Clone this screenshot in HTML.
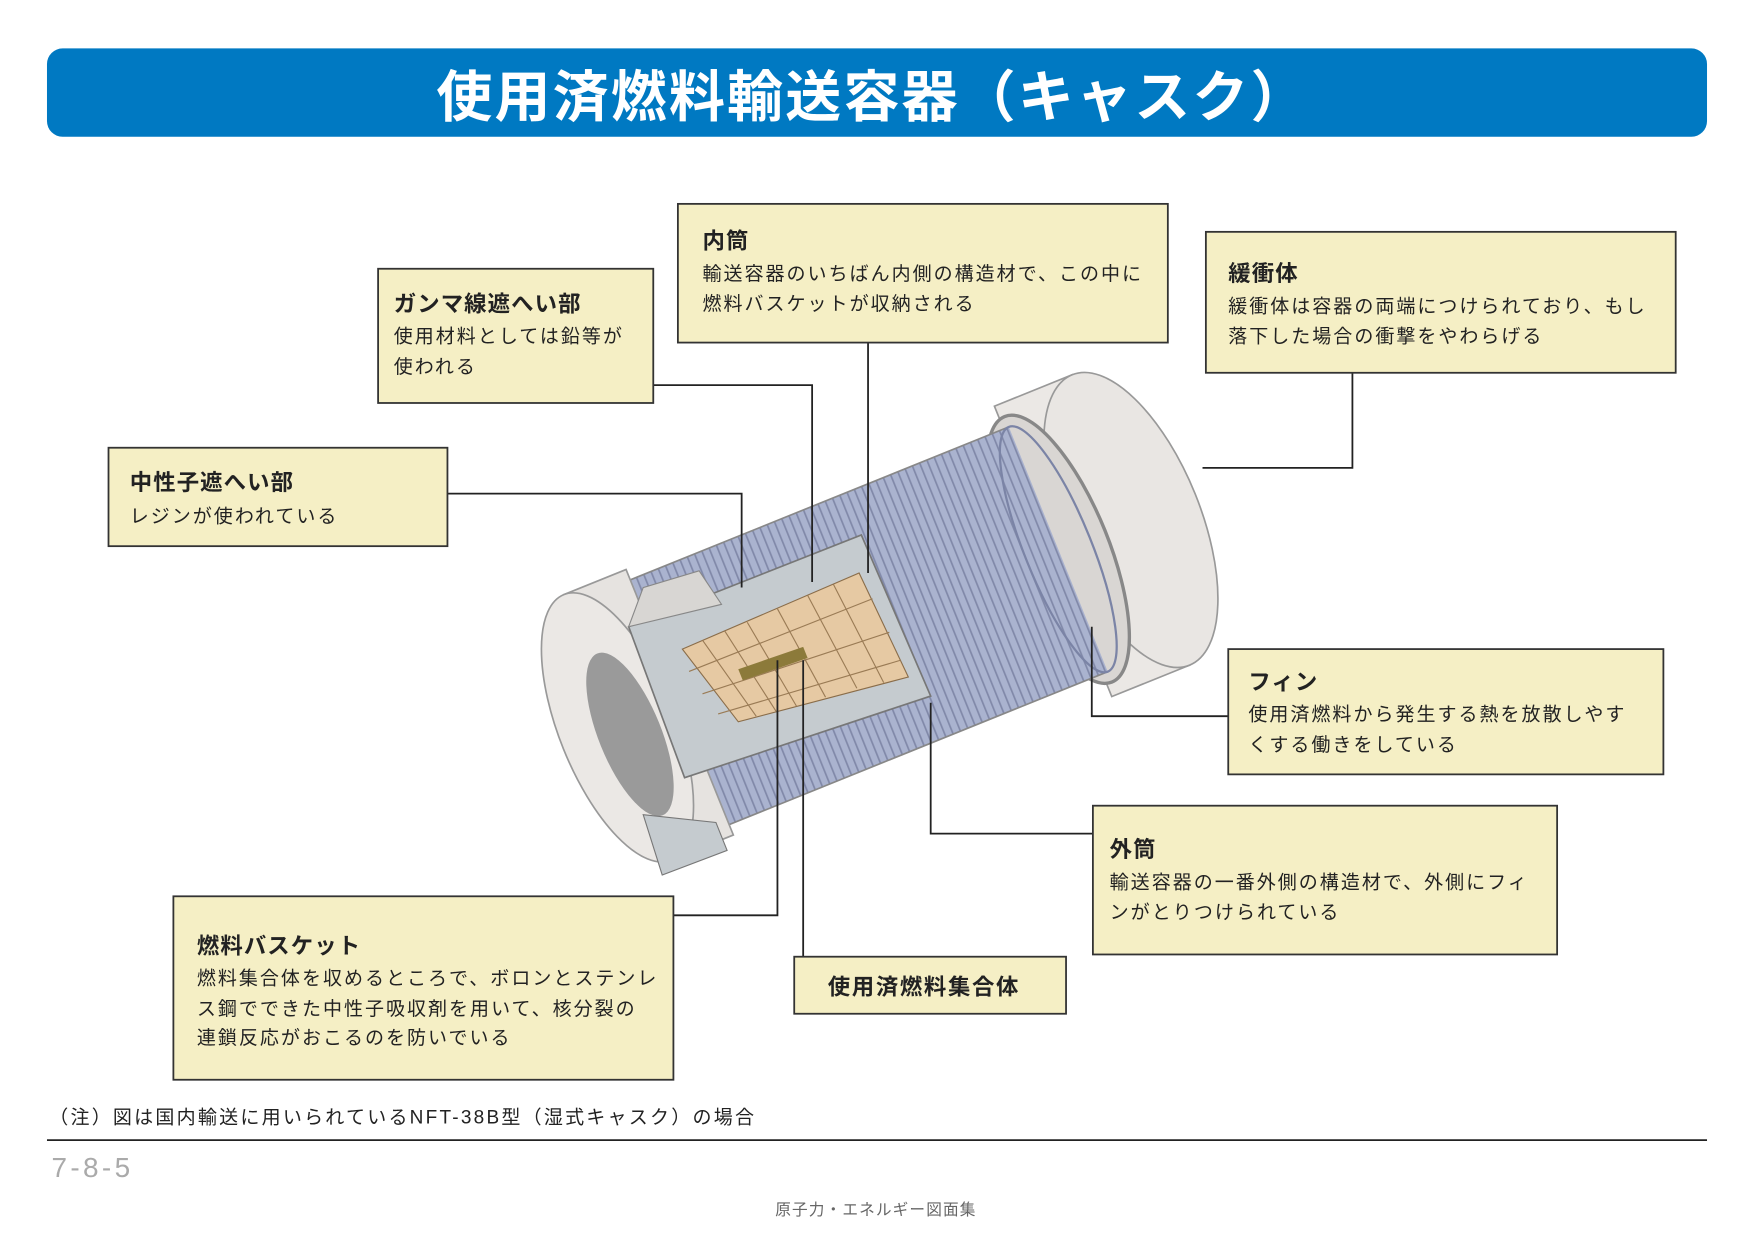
<!DOCTYPE html>
<html><head><meta charset="utf-8"><style>
html,body{margin:0;padding:0;background:#fff;}
svg{display:block;}
text{font-family:"Liberation Sans","Noto Sans CJK JP",sans-serif;}
</style></head><body>
<svg width="1754" height="1240" viewBox="0 0 1568 1108" xmlns="http://www.w3.org/2000/svg">
<defs>
<pattern id="fins" width="7" height="10" patternUnits="userSpaceOnUse">
<rect width="7" height="10" fill="#aab3cf"/>
<line x1="3" y1="0" x2="3" y2="10" stroke="#8088a8" stroke-width="1.5"/>
</pattern>
</defs>
<rect x="42" y="43" width="1484" height="79" rx="14" fill="#0079c2"/>
<text x="780" y="104" text-anchor="middle" font-size="50" font-weight="bold" fill="#fff" letter-spacing="2">使用済燃料輸送容器（キャスク）</text>

<!-- cask -->
<g transform="translate(552,650) rotate(-22)">
 <rect x="420" y="-140" width="75" height="280" fill="#ebe8e5" stroke="#999" stroke-width="1.5"/>
 <ellipse cx="495" cy="0" rx="62" ry="140" fill="#e9e6e3" stroke="#999" stroke-width="1.5"/>
 <ellipse cx="425" cy="0" rx="45" ry="128" fill="#d9d6d3" stroke="#888" stroke-width="3"/>
 <rect x="40" y="-118" width="385" height="236" fill="url(#fins)"/>
 <line x1="40" y1="-118" x2="425" y2="-118" stroke="#888" stroke-width="1.5"/>
 <line x1="40" y1="118" x2="425" y2="118" stroke="#888" stroke-width="1.5"/>
 <ellipse cx="425" cy="0" rx="30" ry="118" fill="none" stroke="#7b84a6" stroke-width="2"/>
 <rect x="0" y="-128" width="60" height="256" fill="#e6e3e0" stroke="#999" stroke-width="1.5"/>
 <ellipse cx="0" cy="0" rx="52" ry="128" fill="#ebe8e5" stroke="#999" stroke-width="1.5"/>
 <ellipse cx="8" cy="10" rx="28" ry="78" fill="#9a9a9a"/>
</g>
<polygon points="562,560 770,478 832,622 612,695" fill="#c5cbcf" stroke="#777" stroke-width="1.5"/>
<polygon points="610,580 768,512 812,605 660,645" fill="#e6c9a3" stroke="#8a6d4a" stroke-width="1"/>
<g stroke="#9a7b55" stroke-width="1">
<line x1="628" y1="572" x2="676" y2="640"/><line x1="648" y1="564" x2="694" y2="636"/>
<line x1="668" y1="556" x2="712" y2="631"/><line x1="695" y1="544" x2="738" y2="623"/>
<line x1="722" y1="532" x2="766" y2="615"/><line x1="745" y1="522" x2="790" y2="610"/>
<line x1="616" y1="600" x2="780" y2="535"/><line x1="628" y1="620" x2="795" y2="565"/>
<line x1="642" y1="638" x2="805" y2="590"/>
</g>
<polygon points="660,598 718,578 722,588 664,608" fill="#8c7a3a"/>
<polygon points="562,560 575,525 625,510 645,540" fill="#d8d6d3" stroke="#888"/>
<polygon points="575,728 640,735 650,760 592,782" fill="#c5cbcf" stroke="#777"/>

<!-- connectors -->
<g fill="none" stroke="#222" stroke-width="1.6">
<polyline points="584,344 726,344 726,520"/>
<polyline points="776,306 776,512"/>
<polyline points="1209,333 1209,418 1075,418"/>
<polyline points="400,441 663,441 663,525"/>
<polyline points="1098,640 976,640 976,560"/>
<polyline points="977,745 832,745 832,628"/>
<polyline points="602,818 695,818 695,590"/>
<polyline points="718,855 718,590"/>
</g>

<!-- boxes -->
<g fill="#f5efc5" stroke="#333" stroke-width="1.6">
<rect x="606" y="182" width="438" height="124"/>
<rect x="1078" y="207" width="420" height="126"/>
<rect x="338" y="240" width="246" height="120"/>
<rect x="97" y="400" width="303" height="88"/>
<rect x="1098" y="580" width="389" height="112"/>
<rect x="977" y="720" width="415" height="133"/>
<rect x="155" y="801" width="447" height="164"/>
<rect x="710" y="855" width="243" height="51"/>
</g>
<g fill="#222" font-size="17" letter-spacing="1.8">
<text x="628" y="222" font-size="20" font-weight="bold" letter-spacing="1">内筒</text>
<text x="628" y="250">輸送容器のいちばん内側の構造材で、この中に</text>
<text x="628" y="277">燃料バスケットが収納される</text>
<text x="1098" y="251" font-size="20" font-weight="bold" letter-spacing="1">緩衝体</text>
<text x="1098" y="279">緩衝体は容器の両端につけられており、もし</text>
<text x="1098" y="306">落下した場合の衝撃をやわらげる</text>
<text x="352" y="278" font-size="20" font-weight="bold" letter-spacing="1">ガンマ線遮へい部</text>
<text x="352" y="306">使用材料としては鉛等が</text>
<text x="352" y="333">使われる</text>
<text x="116" y="438" font-size="20" font-weight="bold" letter-spacing="1">中性子遮へい部</text>
<text x="116" y="467">レジンが使われている</text>
<text x="1116" y="616" font-size="20" font-weight="bold" letter-spacing="1">フィン</text>
<text x="1116" y="644">使用済燃料から発生する熱を放散しやす</text>
<text x="1116" y="671">くする働きをしている</text>
<text x="992" y="766" font-size="20" font-weight="bold" letter-spacing="1">外筒</text>
<text x="992" y="794">輸送容器の一番外側の構造材で、外側にフィ</text>
<text x="992" y="821">ンがとりつけられている</text>
<text x="176" y="852" font-size="20" font-weight="bold" letter-spacing="1">燃料バスケット</text>
<text x="176" y="880">燃料集合体を収めるところで、ボロンとステンレ</text>
<text x="176" y="907">ス鋼でできた中性子吸収剤を用いて、核分裂の</text>
<text x="176" y="933">連鎖反応がおこるのを防いでいる</text>
<text x="740" y="889" font-size="20" font-weight="bold" letter-spacing="1.5">使用済燃料集合体</text>
<text x="44" y="1004" letter-spacing="2">（注）図は国内輸送に用いられているNFT-38B型（湿式キャスク）の場合</text>
</g>
<line x1="42" y1="1019" x2="1526" y2="1019" stroke="#222" stroke-width="1.6"/>
<text x="46" y="1052" font-size="25" fill="#aaa" letter-spacing="3">7-8-5</text>
<text x="783" y="1086" font-size="14" fill="#666" text-anchor="middle" letter-spacing="1">原子力・エネルギー図面集</text>
</svg>
</body></html>
